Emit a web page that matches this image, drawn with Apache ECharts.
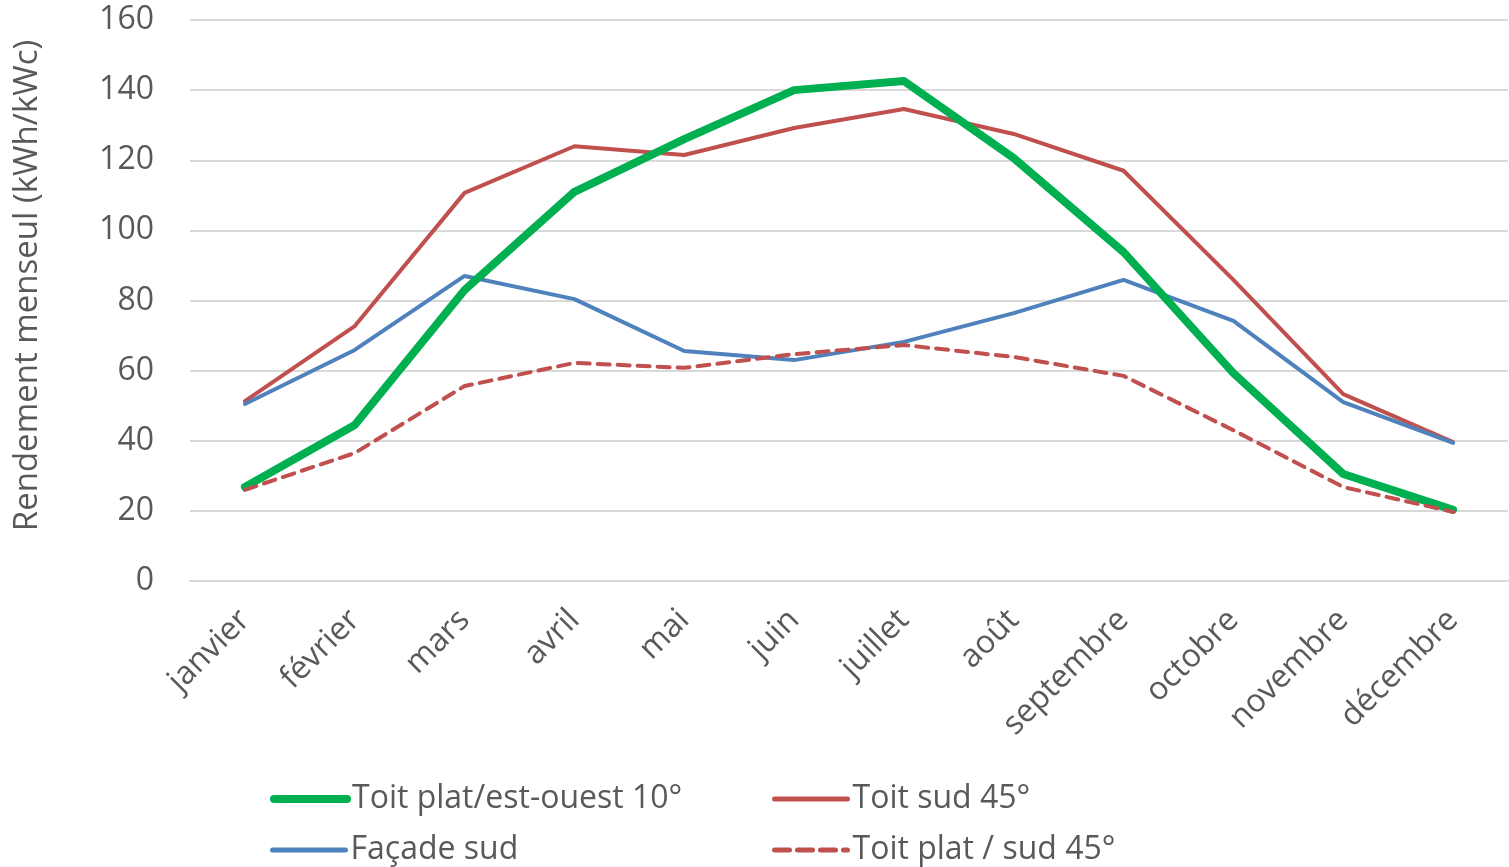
<!DOCTYPE html>
<html>
<head>
<meta charset="utf-8">
<script src="https://cdn.jsdelivr.net/npm/echarts@6/dist/echarts.min.js"></script>
<style>
  html, body { margin: 0; padding: 0; background: #fff; }
  #main { width: 1509px; height: 867px; }
</style>
</head>
<body>
<div id="main"></div>
<script>
// mois
const months = ['janvier', 'février', 'mars', 'avril', 'mai', 'juin',
  'juillet', 'août', 'septembre', 'octobre', 'novembre', 'décembre']

// kWh/kWc par mois
const toitPlatEstOuest = [26.8, 44.5, 83, 111, 126, 140, 142.6, 120.6, 93.8, 59.3, 30.5, 20.3]
const toitSud45 = [51.3, 72.7, 110.7, 124, 121.5, 129.2, 134.6, 127.5, 117, 85.9, 53.3, 39.6]
const facadeSud = [50.5, 65.9, 87, 80.4, 65.6, 63, 68.2, 76.4, 85.9, 74.2, 51, 39.4]
const toitPlatSud45 = [26, 36.5, 55.6, 62.2, 60.8, 64.7, 67.3, 63.9, 58.5, 43, 26.8, 19.7]

const FONT = '"Open Sans", sans-serif'
const GREY = '#595959'
const GREEN = '#00B050'
const RED = '#C0504D'
const BLUE = '#4F81BD'

let chart = echarts.init(document.getElementById('main'))

// une légende par entrée, pour aligner les colonnes comme dans Excel
function legendItem (name, left, top, lineStyle) {
  return {
    data: [name],
    left: left,
    top: top,
    padding: 0,
    itemWidth: 73,
    itemHeight: 14,
    itemStyle: { opacity: 0 },
    lineStyle: lineStyle,
    textStyle: { fontFamily: FONT, fontSize: 32, color: GREY }
  }
}

chart.setOption({
  animation: false,
  grid: { left: 190, right: 1, top: 20, bottom: 286 },
  legend: [
    legendItem('Toit plat/est-ouest 10°', 270, 783, { color: GREEN, width: 8, cap: 'round' }),
    legendItem('Façade sud', 270, 834, { color: BLUE, width: 5, cap: 'round' }),
    legendItem('Toit sud 45°', 772, 783, { color: RED, width: 5, cap: 'round' }),
    legendItem('Toit plat / sud 45°', 772, 834, { color: RED, width: 5, type: [15, 8], cap: 'round' })
  ],
  xAxis: {
    type: 'category',
    data: months,
    boundaryGap: true,
    axisLine: { lineStyle: { color: '#d9d9d9', width: 2 } },
    axisTick: { show: false },
    axisLabel: {
      rotate: 45,
      interval: 0,
      margin: 34,
      fontFamily: FONT,
      fontSize: 32,
      color: GREY
    }
  },
  yAxis: {
    type: 'value',
    min: 0,
    max: 160,
    interval: 20,
    name: 'Rendement menseul (kWh/kWc)',
    nameLocation: 'middle',
    nameGap: 146,
    nameTextStyle: { fontFamily: FONT, fontSize: 33, color: GREY, padding: [0, 0, 0, 30] },
    axisLine: { show: false },
    axisTick: { show: false },
    splitLine: { lineStyle: { color: '#d9d9d9', width: 2 } },
    axisLabel: {
      margin: 36,
      fontFamily: FONT,
      fontSize: 32,
      color: GREY
    }
  },
  series: [
    {
      name: 'Toit plat/est-ouest 10°',
      type: 'line',
      data: toitPlatEstOuest,
      symbol: 'none',
      z: 4,
      lineStyle: { color: GREEN, width: 8, cap: 'round', join: 'round' },
      itemStyle: { color: GREEN }
    },
    {
      name: 'Toit sud 45°',
      type: 'line',
      data: toitSud45,
      symbol: 'none',
      z: 3,
      lineStyle: { color: RED, width: 4, cap: 'round' },
      itemStyle: { color: RED }
    },
    {
      name: 'Façade sud',
      type: 'line',
      data: facadeSud,
      symbol: 'none',
      z: 3,
      lineStyle: { color: BLUE, width: 4, cap: 'round' },
      itemStyle: { color: BLUE }
    },
    {
      name: 'Toit plat / sud 45°',
      type: 'line',
      data: toitPlatSud45,
      symbol: 'none',
      z: 5,
      lineStyle: { color: RED, width: 4, type: [12, 8], cap: 'round' },
      itemStyle: { color: RED }
    }
  ]
})
</script>
</body>
</html>
